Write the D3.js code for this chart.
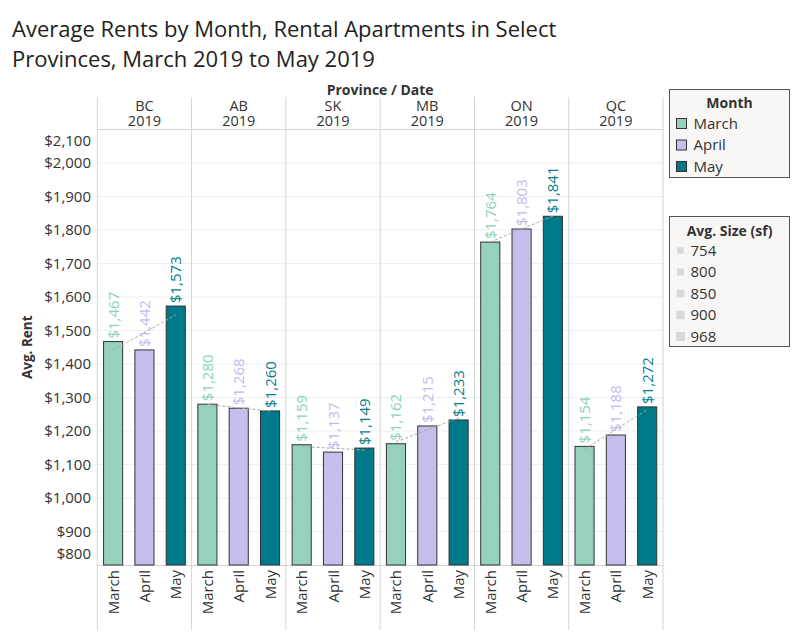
<!DOCTYPE html>
<html lang="en">
<head>
<meta charset="UTF-8">
<title>Average Rents by Month</title>
<script src="https://d3js.org/d3.v7.min.js"></script>
<style>
    body { margin: 0; background: #fff; font-family: "Open Sans", "DejaVu Sans", sans-serif; }
    svg text { fill: #333; }
</style>
</head>
<body>
<svg id="chart" width="800" height="640"></svg>
<script>
    const provinces = ['BC', 'AB', 'SK', 'MB', 'ON', 'QC'];
    const months = ['March', 'April', 'May'];
    const marchRent = [1467, 1280, 1159, 1162, 1764, 1154];
    const aprilRent = [1442, 1268, 1137, 1215, 1803, 1188];
    const mayRent = [1573, 1260, 1149, 1233, 1841, 1272];
    const yTicks = [800, 900, 1000, 1100, 1200, 1300, 1400, 1500, 1600, 1700, 1800, 1900, 2000, 2100];
    const sizeLabels = ['754', '800', '850', '900', '968'];

    const barColor = { March: '#96d1bd', April: '#c6bfee', May: '#00798a' };
    const labelColor = { March: '#8ad4b8', April: '#c3bbf0', May: '#087f8f' };

    const svg = d3.select('#chart');
    const plotLeft = 97.3, plotRight = 663, plotTop = 129.5, plotBottom = 565;

    const byMonth = { March: marchRent, April: aprilRent, May: mayRent };

    const x0 = d3.scaleBand().domain(provinces).range([plotLeft, plotRight]);
    const x1 = d3.scaleBand().domain(months).range([0, x0.bandwidth()]).paddingInner(0.39).paddingOuter(0.2);
    const y = d3.scaleLinear().domain([800, 2100]).range([plotBottom, plotTop]);

    // title
    const title = svg.append('text').attr('x', 12).attr('y', 37)
        .style('font-size', '22px').style('fill', '#222');
    title.append('tspan').attr('x', 12).text('Average Rents by Month, Rental Apartments in Select');
    title.append('tspan').attr('x', 12).attr('dy', 30).text('Provinces, March 2019 to May 2019');

    // gridlines
    svg.append('g').selectAll('line').data(yTicks.slice(1, -1)).join('line')
        .attr('x1', plotLeft).attr('x2', plotRight)
        .attr('y1', d => y(d)).attr('y2', d => y(d))
        .attr('stroke', '#efefef');

    // header
    svg.append('text').attr('x', (plotLeft + plotRight) / 2).attr('y', 94.5)
        .attr('text-anchor', 'middle').style('font-size', '14px').style('font-weight', 'bold')
        .text('Province / Date');

    const head = svg.append('g').selectAll('text').data(provinces).join('text')
        .attr('text-anchor', 'middle').style('font-size', '14.5px');
    head.append('tspan').attr('x', d => x0(d) + x0.bandwidth() / 2).attr('y', 110.5).text(d => d);
    head.append('tspan').attr('x', d => x0(d) + x0.bandwidth() / 2).attr('y', 126).text('2019');

    svg.append('line').attr('x1', plotLeft).attr('x2', plotRight).attr('y1', plotTop).attr('y2', plotTop)
        .attr('stroke', '#d4d4d4');
    svg.append('line').attr('x1', plotLeft).attr('x2', plotRight).attr('y1', plotBottom + 0.5).attr('y2', plotBottom + 0.5)
        .attr('stroke', '#d4d4d4');

    // pane dividers
    svg.append('g').selectAll('line').data(provinces.concat(['end'])).join('line')
        .attr('x1', (d, i) => plotLeft + i * x0.bandwidth()).attr('x2', (d, i) => plotLeft + i * x0.bandwidth())
        .attr('y1', 97).attr('y2', 630)
        .attr('stroke', '#d4d4d4');

    // y axis
    const yAxis = svg.append('g');
    yAxis.selectAll('text').data(yTicks).join('text')
        .attr('x', 91)
        .attr('y', d => {
            let p = y(d);
            if (d === 2100) p += 11;
            if (d === 800) p -= 11;
            return p;
        })
        .attr('dy', '0.35em').attr('text-anchor', 'end')
        .style('font-size', '15px').text(d => d3.format('$,')(d));

    svg.append('text').attr('transform', `translate(32,${(plotTop + plotBottom) / 2}) rotate(-90)`)
        .attr('text-anchor', 'middle').style('font-size', '13.5px').style('font-weight', 'bold')
        .text('Avg. Rent');

    // bars
    const rows = provinces.map((p, i) => months.map(m => ({ province: p, month: m, value: byMonth[m][i] })));

    const groups = svg.append('g').selectAll('g').data(rows).join('g')
        .attr('transform', d => `translate(${x0(d[0].province)},0)`);

    groups.selectAll('rect').data(d => d).join('rect')
        .attr('x', d => x1(d.month))
        .attr('width', x1.bandwidth())
        .attr('y', d => y(d.value))
        .attr('height', d => plotBottom - y(d.value))
        .attr('fill', d => barColor[d.month])
        .attr('stroke', '#333').attr('stroke-width', 1);

    // trend lines (linear regression per pane)
    groups.append('line').each(function (d) {
        const xs = [0, 1, 2], ys = d.map(v => v.value);
        const mx = 1, my = d3.mean(ys);
        const slope = d3.sum(xs.map((xv, k) => (xv - mx) * (ys[k] - my))) / d3.sum(xs.map(xv => (xv - mx) ** 2));
        const a = my - slope * mx;
        d3.select(this)
            .attr('x1', x1('March') + x1.bandwidth() / 2).attr('y1', y(a))
            .attr('x2', x1('May') + x1.bandwidth() / 2).attr('y2', y(a + slope * 2))
            .attr('stroke', '#a8a8a8').attr('stroke-width', 1).attr('stroke-dasharray', '3,2');
    });

    // value labels
    groups.selectAll('text.val').data(d => d).join('text')
        .attr('class', 'val')
        .attr('transform', d => `translate(${x1(d.month) + x1.bandwidth() / 2 + 5.5},${y(d.value) - 3}) rotate(-90)`)
        .style('font-size', '15px')
        .style('fill', d => labelColor[d.month])
        .text(d => d3.format('$,')(d.value));

    // month labels at bottom
    groups.selectAll('text.mon').data(d => d).join('text')
        .attr('class', 'mon')
        .attr('transform', d => `translate(${x1(d.month) + x1.bandwidth() / 2 + 5.5},570) rotate(-90)`)
        .attr('text-anchor', 'end')
        .style('font-size', '15px')
        .text(d => d.month);

    // month legend
    const lg = svg.append('g').attr('transform', 'translate(669.5,89.5)');
    lg.append('rect').attr('width', 120).attr('height', 88)
        .attr('fill', '#f8f7f5').attr('stroke', '#555');
    lg.append('text').attr('x', 60).attr('y', 18).attr('text-anchor', 'middle')
        .style('font-size', '14px').style('font-weight', 'bold').text('Month');
    const li = lg.selectAll('g').data(months).join('g')
        .attr('transform', (d, i) => `translate(7,${29 + i * 21.5})`);
    li.append('rect').attr('width', 10).attr('height', 10)
        .attr('fill', d => barColor[d]).attr('stroke', '#333');
    li.append('text').attr('x', 17).attr('y', 5).attr('dy', '0.35em')
        .style('font-size', '15px').text(d => d);

    // size legend
    const sg = svg.append('g').attr('transform', 'translate(669.5,216.5)');
    sg.append('rect').attr('width', 120).attr('height', 130)
        .attr('fill', '#f8f7f5').attr('stroke', '#555');
    sg.append('text').attr('x', 60).attr('y', 19).attr('text-anchor', 'middle')
        .style('font-size', '14px').style('font-weight', 'bold').text('Avg. Size (sf)');
    const sz = d3.scaleLinear().domain([0, sizeLabels.length - 1]).range([6.5, 9]);
    const si = sg.selectAll('g').data(sizeLabels).join('g')
        .attr('transform', (d, i) => `translate(11,${34 + i * 21.5})`);
    si.append('rect')
        .attr('x', (d, i) => -sz(i) / 2).attr('y', (d, i) => -sz(i) / 2)
        .attr('width', (d, i) => sz(i)).attr('height', (d, i) => sz(i))
        .attr('fill', '#d9d9d9');
    si.append('text').attr('x', 10).attr('dy', '0.35em')
        .style('font-size', '15px').text(d => d);
</script>
</body>
</html>
